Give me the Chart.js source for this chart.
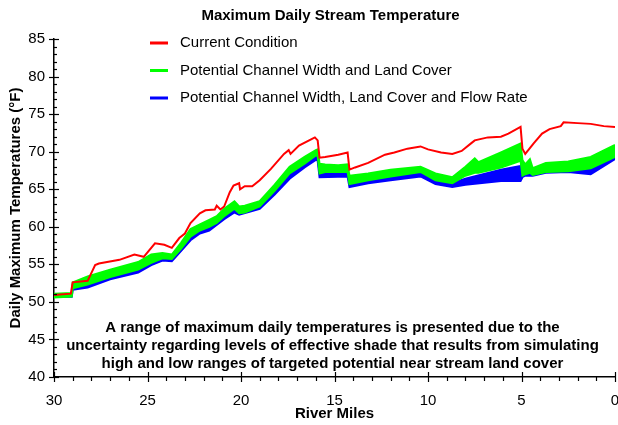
<!DOCTYPE html>
<html>
<head>
<meta charset="utf-8">
<script src="https://cdn.jsdelivr.net/npm/chart.js@4.4.1/dist/chart.umd.min.js"></script>
<style>
  html, body { margin: 0; padding: 0; background: #fff; overflow: hidden; }
  #wrap { width: 618px; height: 425px; position: relative; }
</style>
</head>
<body>
<div id="wrap"><canvas id="myChart"></canvas></div>
<script>
// river mile vs max daily temperature (F)
const redMiles = [30, 29.1, 29.0, 28.2, 27.8, 27.6, 26.5, 25.7, 25.2, 24.6, 24.1, 23.7, 23.3, 23.0, 22.7,
  22.2, 21.9, 21.4, 21.3, 21.1, 20.9, 20.6, 20.4, 20.1, 20.05, 19.8, 19.4, 19.0, 18.4, 17.7, 17.45, 17.35,
  16.9, 16.2, 16.05, 15.9, 15.8, 15.5, 14.8, 14.3, 14.2, 13.9, 13.2, 12.3, 11.8, 11.1, 10.4, 10.0, 9.3,
  8.7, 8.2, 7.7, 7.5, 6.8, 6.1, 5.7, 5.05, 4.95, 4.8, 4.35, 3.9, 3.5, 2.9, 2.75, 2.0, 1.3, 0.6, 0];
const redTemp = [50.9, 51.1, 52.6, 52.8, 54.9, 55.1, 55.6, 56.3, 56.0, 57.8, 57.6, 57.2, 58.5, 59.1, 60.5,
  61.8, 62.2, 62.3, 62.8, 62.3, 62.7, 64.6, 65.5, 65.8, 65.0, 65.4, 65.4, 66.2, 67.7, 69.7, 70.2, 69.7,
  70.8, 71.7, 71.9, 71.5, 69.2, 69.3, 69.6, 69.9, 67.6, 67.9, 68.5, 69.6, 69.9, 70.4, 70.7, 70.3, 69.9,
  69.7, 70.1, 71.1, 71.5, 71.9, 72.0, 72.4, 73.3, 70.4, 69.7, 71.1, 72.4, 73.0, 73.4, 73.9, 73.8, 73.7, 73.4, 73.3];

const greenMiles = [30, 29.05, 29.0, 28.2, 27.0, 25.5, 24.8, 24.2, 23.7, 23.2, 22.7, 22.2, 21.7, 21.3,
  20.9, 20.35, 20.1, 19.8, 19.0, 18.2, 17.4, 16.6, 16.0, 15.9, 15.8, 15.5, 14.8, 14.3, 14.2, 13.2, 12.0,
  10.4, 9.6, 8.7, 8.0, 7.5, 7.3, 6.1, 5.05, 4.95, 4.8, 4.55, 4.4, 3.7, 2.5, 1.3, 0];
const greenHigh = [51.1, 51.2, 52.6, 53.4, 54.3, 55.3, 56.3, 56.5, 56.3, 57.9, 59.7, 60.3, 60.9, 61.4,
  62.4, 63.4, 62.7, 62.8, 63.4, 65.6, 68.0, 69.3, 70.2, 70.3, 68.4, 68.3, 68.2, 68.3, 66.8, 67.1, 67.6,
  68.0, 67.1, 66.6, 68.0, 69.1, 68.6, 69.9, 71.1, 68.9, 68.3, 69.0, 67.8, 68.5, 68.7, 69.3, 70.9];
const greenLow = [50.6, 50.7, 51.8, 52.3, 53.3, 54.3, 55.2, 55.8, 55.7, 57.1, 58.7, 59.5, 60.0, 60.5,
  61.4, 62.4, 61.8, 61.9, 62.7, 64.8, 67.1, 68.4, 69.5, 69.4, 67.1, 67.3, 67.3, 67.3, 65.7, 66.2, 66.7,
  67.3, 66.2, 65.8, 66.8, 67.2, 67.2, 67.9, 68.8, 66.8, 67.0, 67.2, 66.9, 67.3, 67.4, 67.8, 69.3];

const blueMiles = [30, 29.05, 29.0, 28.2, 27.0, 25.5, 24.8, 24.2, 23.7, 23.2, 22.7, 22.2, 21.7, 20.9,
  20.35, 20.1, 19.0, 18.2, 17.4, 16.6, 16.0, 15.9, 15.8, 14.3, 14.2, 13.2, 12.0, 10.4, 9.6, 8.7, 8.0,
  6.1, 5.05, 4.95, 4.8, 4.4, 3.7, 2.5, 1.3, 0];
const blueHigh = [51.0, 51.0, 52.3, 52.6, 53.5, 54.5, 55.5, 56.0, 55.9, 57.2, 58.8, 59.6, 60.1, 61.5,
  62.5, 62.0, 63.0, 65.0, 67.2, 68.5, 69.5, 69.4, 67.2, 67.3, 65.8, 66.3, 66.7, 67.3, 66.3, 65.8, 66.4,
  67.6, 68.1, 68.6, 68.0, 67.5, 67.8, 68.0, 68.2, 69.5];
const blueLow = [50.7, 50.7, 51.6, 51.9, 53.0, 53.9, 54.9, 55.5, 55.4, 56.8, 58.2, 59.1, 59.5, 61.0,
  61.9, 61.6, 62.4, 64.3, 66.4, 67.9, 68.9, 68.8, 66.6, 66.7, 65.3, 65.8, 66.2, 66.7, 65.7, 65.3, 65.6,
  66.1, 66.1, 66.6, 66.8, 66.8, 67.2, 67.3, 67.0, 69.0];

const xTicks = [30, 25, 20, 15, 10, 5, 0];
const yTicks = [40, 45, 50, 55, 60, 65, 70, 75, 80, 85];

const legendLabels = ["Current Condition", "Potential Channel Width and Land Cover",
  "Potential Channel Width, Land Cover and Flow Rate"];
const noteLines = ["A range of maximum daily temperatures is presented due to the",
  "uncertainty regarding levels of effective shade that results from simulating",
  "high and low ranges of targeted potential near stream land cover"];

const RED = "#ff0000";
const GREEN = "#00ff00";
const BLUE = "#0000ff";
const FONT = "'Liberation Sans', Arial, sans-serif";

function pts(xs, ys) {
  return xs.map((m, i) => ({ x: m, y: ys[i] }));
}

// minor/major tick marks on the axes
const axisTicks = {
  id: "axisTicks",
  afterDraw(chart) {
    const ctx = chart.ctx;
    const xs = chart.scales.x;
    const ys = chart.scales.y;
    const area = chart.chartArea;
    ctx.save();
    ctx.strokeStyle = "#000";
    ctx.lineWidth = 1.2;
    for (let v = 40; v <= 85; v++) {
      const py = Math.round(ys.getPixelForValue(v)) + 0.5;
      const major = v % 5 === 0;
      ctx.beginPath();
      ctx.moveTo(area.left - (major ? 5 : 1), py);
      ctx.lineTo(area.left + (major ? 5 : 3), py);
      ctx.stroke();
    }
    for (let m = 0; m <= 30; m++) {
      const px = Math.round(xs.getPixelForValue(m)) + 0.5;
      const major = m % 5 === 0;
      ctx.beginPath();
      ctx.moveTo(px, area.bottom - (major ? 5 : 0));
      ctx.lineTo(px, area.bottom + (major ? 5 : 4));
      ctx.stroke();
    }
    ctx.restore();
  }
};

// chart title, legend and note text
const labelsPlugin = {
  id: "labelsPlugin",
  afterDraw(chart) {
    const ctx = chart.ctx;
    const area = chart.chartArea;
    const cx = (area.left + area.right) / 2;
    ctx.save();
    ctx.fillStyle = "#000";
    ctx.textBaseline = "middle";
    ctx.textAlign = "center";
    ctx.font = "bold 15px " + FONT;
    ctx.fillText("Maximum Daily Stream Temperature", cx - 4, 16);

    const colors = [RED, GREEN, BLUE];
    ctx.textAlign = "left";
    ctx.font = "15px " + FONT;
    legendLabels.forEach((t, i) => {
      const y = 43 + i * 27.5;
      ctx.fillStyle = colors[i];
      ctx.fillRect(150, y - 1.5, 18, 3);
      ctx.fillStyle = "#000";
      ctx.fillText(t, 180, y);
    });

    ctx.textAlign = "center";
    ctx.font = "bold 15px " + FONT;
    noteLines.forEach((t, i) => {
      ctx.fillText(t, cx - 2, 328 + i * 18);
    });
    ctx.restore();
  }
};

const ctx = document.getElementById("myChart").getContext("2d");
new Chart(ctx, {
  type: "line",
  data: {
    datasets: [
      { label: legendLabels[0], data: pts(redMiles, redTemp), borderColor: RED, borderWidth: 2, fill: false },
      { label: legendLabels[1], data: pts(greenMiles, greenHigh), borderColor: GREEN, backgroundColor: GREEN, borderWidth: 2, fill: "+1" },
      { label: "green low", data: pts(greenMiles, greenLow), borderColor: GREEN, borderWidth: 2, fill: false },
      { label: legendLabels[2], data: pts(blueMiles, blueHigh), borderColor: BLUE, backgroundColor: BLUE, borderWidth: 2, fill: "+1" },
      { label: "blue low", data: pts(blueMiles, blueLow), borderColor: BLUE, borderWidth: 2, fill: false }
    ]
  },
  options: {
    responsive: true,
    maintainAspectRatio: false,
    animation: false,
    layout: { autoPadding: false, padding: { top: 39, right: 3, left: 0, bottom: 0 } },
    elements: { point: { radius: 0 }, line: { tension: 0 } },
    plugins: {
      legend: { display: false },
      tooltip: { enabled: false },
      title: { display: false }
    },
    scales: {
      x: {
        type: "linear",
        reverse: true,
        min: 0,
        max: 30,
        afterFit: (s) => { s.height = 48; s.paddingLeft = 0; s.paddingRight = 0; },
        afterBuildTicks: (s) => { s.ticks = xTicks.map((v) => ({ value: v })); },
        grid: { display: false, drawTicks: false },
        border: { display: true, color: "#000", width: 1.5 },
        ticks: { color: "#000", padding: 15, font: { size: 15, family: FONT } },
        title: { display: true, text: "River Miles", color: "#000", font: { size: 15, weight: "bold", family: FONT }, padding: { top: 0, bottom: 2 } }
      },
      y: {
        min: 40,
        max: 85,
        afterFit: (s) => { s.width = 54; s.paddingTop = 0; s.paddingBottom = 0; },
        afterBuildTicks: (s) => { s.ticks = yTicks.map((v) => ({ value: v })); },
        grid: { display: false, drawTicks: false },
        border: { display: true, color: "#000", width: 1.5 },
        ticks: { color: "#000", padding: 9, font: { size: 15, family: FONT } },
        title: { display: true, text: "Daily Maximum Temperatures (°F)", color: "#000", font: { size: 15, weight: "bold", family: FONT }, padding: { top: 7, bottom: 0 } }
      }
    }
  },
  plugins: [axisTicks, labelsPlugin]
});
</script>
</body>
</html>
